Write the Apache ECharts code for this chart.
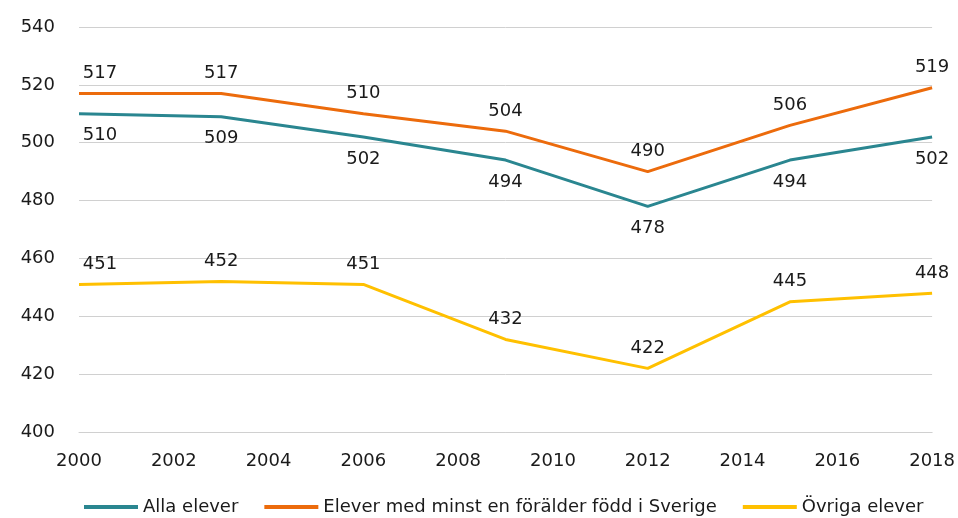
<!DOCTYPE html>
<html><head><meta charset="utf-8">
<script src="https://cdn.jsdelivr.net/npm/echarts@6/dist/echarts.min.js"></script>
<style>html,body{margin:0;padding:0;background:#fff}#c{width:958px;height:518px}</style>
</head><body><div id="c"></div>
<script>
const years = [2000, 2003, 2006, 2009, 2012, 2015, 2018];
const alla = [510, 509, 502, 494, 478, 494, 502];
const sverige = [517, 517, 510, 504, 490, 506, 519];
const ovriga = [451, 452, 451, 432, 422, 445, 448];
const names = ['Alla elever', 'Elever med minst en förälder född i Sverige', 'Övriga elever'];
const colors = ['#2a8690', '#ec6b0c', '#ffc000'];
const font = '"DejaVu Sans", sans-serif';
function pts(arr){ return years.map((y,i)=>[y, arr[i]]); }
function mk(name, arr, color, pos){
  return {name, type:'line', data:pts(arr), symbol:'circle', symbolSize:0, showSymbol:true,
    lineStyle:{color, width:3}, itemStyle:{color},
    label:{show:true, position:pos, distance:pos==='top'?11:13, color:'#1a1a1a', fontSize:18, fontFamily:font},
    labelLayout:(p)=> p.dataIndex===0 ? {dx:21, hideOverlap:false} : {hideOverlap:false},
    emphasis:{disabled:true}, silent:true};
}
const chart = echarts.init(document.getElementById('c'));
chart.setOption({
  animation:false,
  color:colors,
  grid:{left:79, right:23, top:27, bottom:86},
  xAxis:{type:'value', min:2000, max:2018, interval:2,
    axisLine:{show:true, lineStyle:{color:'#d0d0d0'}}, axisTick:{show:false}, splitLine:{show:false},
    axisLabel:{color:'#1a1a1a', fontSize:18, fontFamily:font, margin:20, formatter:v=>String(v)}},
  yAxis:{type:'value', min:400, max:540, interval:20,
    axisLine:{show:false}, axisTick:{show:false},
    splitLine:{lineStyle:{color:'#d0d0d0', width:1}},
    axisLabel:{color:'#1a1a1a', fontSize:18, fontFamily:font, margin:24}},
  legend:{top:493, left:79, itemGap:26, itemWidth:54, itemHeight:4, icon:'rect',
    textStyle:{color:'#1a1a1a', fontSize:18, fontFamily:font}, data:names},
  series:[
    mk(names[0], alla, colors[0], 'bottom'),
    mk(names[1], sverige, colors[1], 'top'),
    mk(names[2], ovriga, colors[2], 'top')
  ]
});
</script></body></html>
